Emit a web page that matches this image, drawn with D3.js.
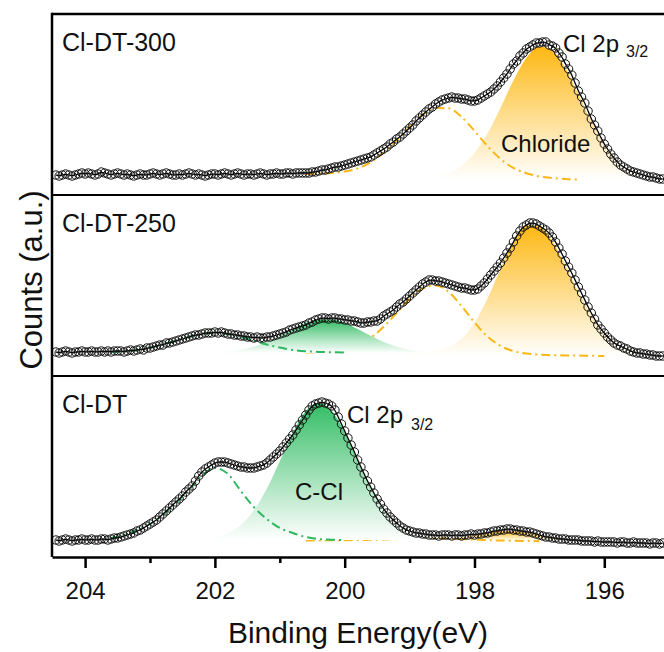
<!DOCTYPE html>
<html>
<head>
<meta charset="utf-8">
<script src="https://cdn.jsdelivr.net/npm/d3@7"></script>
<style>
  body { margin: 0; background: #fff; }
  svg { display: block; font-family: "Liberation Sans", Arial, sans-serif; }
</style>
</head>
<body>
<svg id="chart" width="664" height="652"></svg>
<script>
// measured points, 0.05 eV step from 204.45 eV downwards (a.u.)
var scanStart = 204.45,
    scanStep = 0.05;

var countsDT300 = [
  20,19,20,21,20,19,20,21,22,21, 22,21,20,21,23,22,21,20,21,22,
  21,20,21,20,19,20,21,20,20,21, 22,21,20,21,22,21,20,20,21,20,
  21,22,21,20,21,20,19,20,21,21, 20,21,22,21,20,21,22,21,20,21,
  21,20,21,22,21,20,21,21,22,21, 21,22,22,21,22,22,22,22,22,23,
  23,24,25,25,26,27,28,28,29,30, 31,32,33,34,35,36,37,38,40,42,
  44,46,48,51,53,56,58,61,64,67, 70,74,77,80,83,86,88,91,93,95,
  96,97,98,97,97,96,96,95,94,94, 95,97,99,101,103,106,109,113,117,121,
  126,131,134,139,142,146,148,150,152,152, 153,153,150,149,147,142,138,131,126,120,
  112,104,98,92,84,76,70,64,57,51, 46,41,37,33,30,28,26,24,23,22,
  21,20,19,18,18,17,16,16
];

var countsDT250 = [
  24,23,24,25,24,23,24,24,25,24, 24,25,24,24,25,24,25,24,25,25,
  25,24,25,26,25,26,27,26,28,28, 29,30,31,31,33,33,34,35,36,37,
  38,39,40,41,41,42,43,43,43,44, 43,44,43,42,42,41,41,40,40,39,
  39,38,39,38,38,39,39,40,41,42, 43,44,46,47,48,49,50,51,53,54,
  56,57,58,58,57,58,58,57,57,56, 56,55,55,54,53,53,54,54,55,55,
  57,60,62,64,66,69,72,74,77,80, 83,86,89,92,94,96,96,95,95,94,
  93,92,91,90,89,88,88,87,86,86, 87,90,93,97,101,105,109,113,118,123,
  128,134,140,145,149,151,153,153,152,150, 148,146,143,139,134,128,122,115,109,103,
  96,89,83,76,69,63,57,51,47,43, 39,36,33,31,30,28,27,25,24,23,
  23,22,22,21,21,20,20,20
];

var countsDT = [
  17,16,17,18,17,16,17,17,18,17, 17,18,17,17,18,18,17,18,19,19,
  20,21,22,23,24,26,27,29,31,33, 35,37,40,43,46,49,52,55,58,61,
  65,68,71,76,81,85,88,90,92,94, 95,95,95,94,93,92,91,90,90,89,
  89,89,90,91,92,94,97,100,103,106, 110,114,118,122,127,132,137,142,147,151,
  153,154,155,154,153,151,147,140,133,126, 119,112,105,97,90,83,76,70,64,58,
  53,48,44,40,37,34,31,29,27,26, 25,24,24,23,23,22,22,22,21,22,
  22,22,21,22,22,21,22,22,23,22, 23,23,24,24,25,26,26,27,27,28,
  28,27,27,26,26,25,25,24,23,22, 21,20,20,19,19,18,18,18,17,17,
  17,17,16,16,16,16,15,16,15,15, 15,15,15,14,15,15,14,14,15,14,
  14,14,14,13,14,14,13,14
];

// fitted components, 0.2 eV step from the given start energy
var fitStep = 0.2;

var chloride300From = 199.0;
var chloride300 = [16.3,16.8,18.3,21.9,29.1,41.9,61.4,87.0,114.4,137.2,148.5,144.6,126.9,100.9,73.7,50.8,34.6,24.9,19.8,17.4];
var shoulder300From = 200.6;
var shoulder300 = [21,21.4,22,23.5,26.6,32.8,42.2,54.5,68.2,80.1,87.0,86.7,78.1,64.1,48.9,36.1,27.1,21.8,18.5,17.0,16.0,15.5];

var chloride250From = 199.0;
var chloride250 = [23.2,23.5,24.9,28.7,37.3,53.2,77.5,107.1,134.7,150.6,149.4,134.4,110.6,84.2,60.6,42.9,31.6,25.1,21.8,20.4];
var shoulder250From = 200.6;
var shoulder250 = [23.6,23.9,24.8,26.8,30.9,38.2,49.2,63.0,77.0,87.4,90.6,84.1,70.0,53.5,39.5,30.1,24.9,22.4,21.4,20.8,20.6,20.4,20.2,20.0];
var ccl250From = 202.2;
var ccl250 = [23.2,23.6,24.5,26.3,29.3,34.0,40.2,47.0,53.0,56.5,56.5,53.0,47.0,40.2,34.0,29.3,26.3,24.5,23.6,23.2];
var high250From = 203.6;
var high250 = [24.1,24.8,26.1,28.4,31.5,35.3,39.1,42.0,43.0,42.0,39.1,35.3,31.5,28.4,26.1,24.8,24.1,23.8,23.6];

var cclDTFrom = 202.4;
var cclDT = [17.3,17.9,19.7,23.7,31.9,46.4,68.2,95.7,124.1,145.8,154,146.1,125,97.2,69.9,48.0,33.1,24.4,20.1,18.1,17.4];
var highDTFrom = 203.6;
var highDT = [19,22,27,33,42,54,67,81,89,83,66,50,38,29,24,20,18,17.3,17];
var chlorideDTFrom = 198.6;
var chlorideDT = [17.5,18.2,19.7,21.9,24.2,25.8,25.8,24.2,21.9,19.7,18.2,17.5];
var shoulderDTFrom = 200.6;
var shoulderDT = [16.5,16.6,16.7,16.8,17.0,17.2,17.5,17.8,18.1,18.4,18.5,18.3,17.9,17.4,16.9,16.5,16.2,16.0,15.8];

var majorTicks = [204, 202, 200, 198, 196];
var minorTicks = [203, 201, 199, 197, 195];

var ORANGE = '#f8b716',
    GREEN = '#2fb860';

var svg = d3.select('#chart'),
    left = 52,
    right = 664,
    panelTop = [14, 195, 376],
    panelH = 181,
    bottom = panelTop[2] + panelH;

var x = d3.scaleLinear().domain([204.51, 195.08]).range([left, right]);

var panels = [
  {
    label: 'Cl-DT-300', counts: countsDT300,
    layers: [
      { kind: 'fill', from: chloride300From, vals: chloride300, base: 16, grad: 'gradOrange' },
      { kind: 'dash', from: shoulder300From, vals: shoulder300, color: ORANGE }
    ]
  },
  {
    label: 'Cl-DT-250', counts: countsDT250,
    layers: [
      { kind: 'fill', from: chloride250From, vals: chloride250, base: 20, grad: 'gradOrange' },
      { kind: 'dash', from: shoulder250From, vals: shoulder250, color: ORANGE },
      { kind: 'fill', from: ccl250From, vals: ccl250, base: 23, grad: 'gradGreen' },
      { kind: 'dash', from: high250From, vals: high250, color: GREEN }
    ]
  },
  {
    label: 'Cl-DT', counts: countsDT,
    layers: [
      { kind: 'fill', from: chlorideDTFrom, vals: chlorideDT, base: 16.5, grad: 'gradOrange' },
      { kind: 'dash', from: shoulderDTFrom, vals: shoulderDT, color: ORANGE },
      { kind: 'fill', from: cclDTFrom, vals: cclDT, base: 17, grad: 'gradGreen' },
      { kind: 'dash', from: highDTFrom, vals: highDT, color: GREEN }
    ]
  }
];

var defs = svg.append('defs');

function addGradient(id, color) {
  var g = defs.append('linearGradient')
    .attr('id', id)
    .attr('x1', 0).attr('y1', 0)
    .attr('x2', 0).attr('y2', 1);
  g.append('stop').attr('offset', '0%').attr('stop-color', color);
  g.append('stop').attr('offset', '100%').attr('stop-color', '#ffffff');
}
addGradient('gradOrange', '#fdb813');
addGradient('gradGreen', '#34bd65');

defs.append('clipPath').attr('id', 'plotClip')
  .append('rect')
  .attr('x', left).attr('y', panelTop[0])
  .attr('width', right - left + 10).attr('height', bottom - panelTop[0]);

function fitPoints(from, vals) {
  return vals.map(function(v, i) { return [from - i * fitStep, v]; });
}

function scanPoints(vals) {
  return vals.map(function(v, i) { return [scanStart - i * scanStep, v]; });
}

panels.forEach(function(p, k) {
  var y = d3.scaleLinear().domain([0, panelH]).range([panelTop[k] + panelH, panelTop[k]]),
      g = svg.append('g').attr('clip-path', 'url(#plotClip)'),
      line = d3.line().x(function(d) { return x(d[0]); }).y(function(d) { return y(d[1]); });

  p.layers.forEach(function(l) {
    var pts = fitPoints(l.from, l.vals);
    if (l.kind === 'fill') {
      g.append('path')
        .datum(pts)
        .attr('fill', 'url(#' + l.grad + ')')
        .attr('d', d3.area()
          .x(function(d) { return x(d[0]); })
          .y0(y(l.base))
          .y1(function(d) { return y(d[1]); })
          .curve(d3.curveMonotoneX));
    } else {
      g.append('path')
        .datum(pts)
        .attr('fill', 'none')
        .attr('stroke', l.color)
        .attr('stroke-width', 2)
        .attr('stroke-dasharray', '9,4,2,4')
        .attr('d', line.curve(d3.curveMonotoneX));
    }
  });

  var scan = scanPoints(p.counts);

  // envelope
  g.append('path')
    .datum(scan)
    .attr('fill', 'none')
    .attr('stroke', '#000')
    .attr('stroke-width', 1.3)
    .attr('d', line.curve(d3.curveBasis));

  g.selectAll('circle.pt')
    .data(scan)
    .join('circle')
    .attr('class', 'pt')
    .attr('cx', function(d) { return x(d[0]); })
    .attr('cy', function(d) { return y(d[1]); })
    .attr('r', 4.2)
    .attr('fill', 'none')
    .attr('stroke', '#111')
    .attr('stroke-width', 1);

  svg.append('text')
    .attr('x', 62)
    .attr('y', panelTop[k] + 37)
    .attr('font-size', 25)
    .attr('fill', '#111')
    .text(p.label);
});

// frame
svg.append('line').attr('x1', left).attr('x2', right + 10).attr('y1', panelTop[0]).attr('y2', panelTop[0])
  .attr('stroke', '#000').attr('stroke-width', 2.5);
svg.append('line').attr('x1', left).attr('x2', left).attr('y1', panelTop[0] - 1.25).attr('y2', bottom)
  .attr('stroke', '#000').attr('stroke-width', 2.5);
[panelTop[1], panelTop[2]].forEach(function(yy) {
  svg.append('line').attr('x1', left).attr('x2', right + 10).attr('y1', yy).attr('y2', yy)
    .attr('stroke', '#000').attr('stroke-width', 2);
});

// x axis
var xAxis = svg.append('g')
  .attr('transform', 'translate(0,' + bottom + ')')
  .call(d3.axisBottom(x).tickValues(majorTicks).tickSize(11).tickSizeOuter(0).tickPadding(14).tickFormat(d3.format('d')));
xAxis.select('.domain').attr('stroke-width', 2.5).attr('stroke', '#000');
xAxis.selectAll('.tick line').attr('stroke-width', 2.5);
xAxis.selectAll('.tick text').attr('font-size', 24).attr('fill', '#111')
  .attr('font-family', '"Liberation Sans", Arial, sans-serif');

var xMinor = svg.append('g')
  .attr('transform', 'translate(0,' + bottom + ')')
  .call(d3.axisBottom(x).tickValues(minorTicks).tickSize(6).tickSizeOuter(0).tickFormat(''));
xMinor.select('.domain').remove();
xMinor.selectAll('.tick line').attr('stroke-width', 2.5);

// annotations
function peakNote(px, py, sx, sy) {
  var t = svg.append('text').attr('font-size', 24).attr('fill', '#111');
  t.append('tspan').attr('x', px).attr('y', py).text('Cl 2p');
  t.append('tspan').attr('x', sx).attr('y', sy).attr('font-size', 16).text('3/2');
}
peakNote(563, 52, 626, 57);
peakNote(347, 423, 411, 430);

svg.append('text').attr('x', 501).attr('y', 152).attr('font-size', 24).attr('fill', '#111').text('Chloride');
svg.append('text').attr('x', 295).attr('y', 500).attr('font-size', 24).attr('fill', '#111').text('C-Cl');

// axis titles
svg.append('text')
  .attr('x', (left + right) / 2)
  .attr('y', 643)
  .attr('text-anchor', 'middle')
  .attr('font-size', 30)
  .attr('fill', '#111')
  .text('Binding Energy(eV)');

svg.append('text')
  .attr('transform', 'translate(42,280) rotate(-90)')
  .attr('text-anchor', 'middle')
  .attr('font-size', 31)
  .attr('fill', '#111')
  .text('Counts (a.u.)');
</script>
</body>
</html>
